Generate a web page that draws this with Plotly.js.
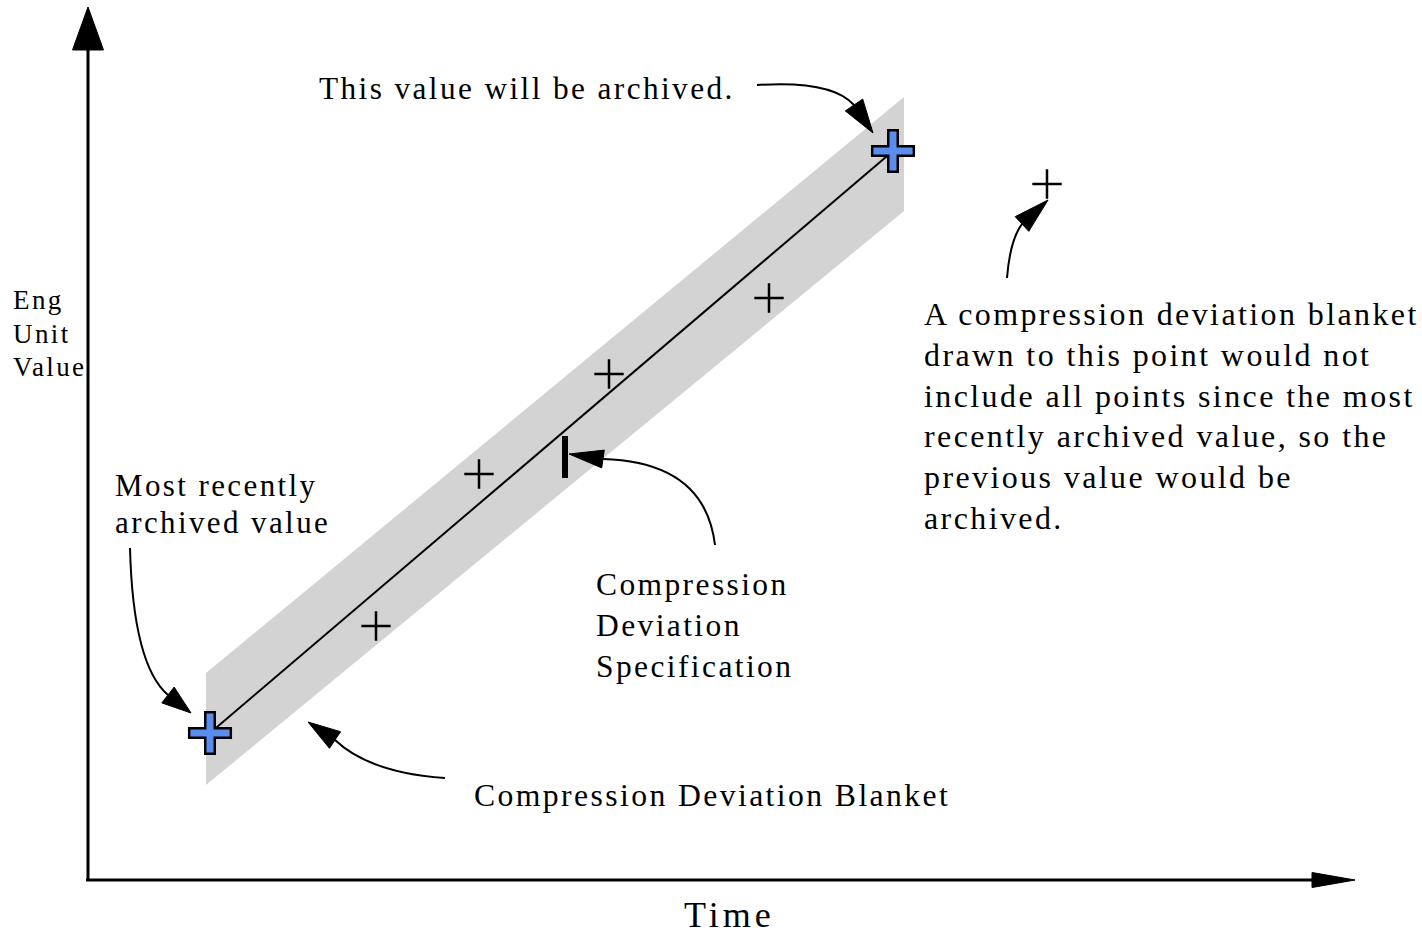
<!DOCTYPE html>
<html>
<head>
<meta charset="utf-8">
<script src="https://cdn.plot.ly/plotly-3.0.1.min.js"></script>
<style>
  html, body { margin: 0; padding: 0; background: #fff; }
  #chart { width: 1422px; height: 934px; }
  /* wide letter spacing of the original drawing; plain class rule so Plotly's text measurer sees it too */
  .annotation-text { letter-spacing: 2.4px; }
  .annotation-text[style*="font-size: 36px"] { letter-spacing: 4px; }
</style>
</head>
<body>
<div id="chart"></div>
<script>
// ---- Data (time units / engineering-unit value units, origin at axis corner) ----
const archivedTimes  = [122, 805];          // most recently archived value, value to be archived
const archivedValues = [147, 729];
const sampleTimes    = [288, 391, 521, 681]; // intermediate (non-archived) samples
const sampleValues   = [254, 406, 506, 582];
const nextTimes      = [959];                // next sample, outside the blanket
const nextValues     = [696];
const blanketTimes   = [118, 816, 816, 118]; // compression deviation blanket outline
const blanketValues  = [207, 783, 669, 95];
const specTimes      = [477, 477];           // compression deviation specification bar
const specValues     = [444, 402];

// text
const yAxisLabelLines   = ["Eng", "Unit", "Value"];
const xAxisLabel        = "Time";
const topLabel          = "This value will be archived.";
const recentLabelLines  = ["Most recently", "archived value"];
const specLabelLines    = ["Compression", "Deviation", "Specification"];
const blanketLabel      = "Compression Deviation Blanket";
const noteLines = [
  "A compression deviation blanket",
  "drawn to this point would not",
  "include all points since the most",
  "recently archived value, so the",
  "previous value would be",
  "archived."
];

// ---- Layout config (positions in axis units) ----
const X_RANGE = [-88, 1334];
const Y_RANGE = [-54, 880];
const SERIF = '"Liberation Serif", "Times New Roman", Times, serif';

// axes arrows
const axisArrows = [
  {from: [0, 0], base: [0, 830], tip: [0, 873], half: 15.5},
  {from: [-2, 0], base: [1224, 0], tip: [1267, 0], half: 7.5}
];
// curved callout arrows: start, control, head base, tip, half width of head
const callouts = [
  {start: [669, 795], ctrl: [744, 800], base: [766, 775], tip: [785, 747], half: 10.5},
  {start: [919, 602], ctrl: [922, 640], base: [934, 656], tip: [960, 680], half: 10},
  {start: [42, 332],  ctrl: [45, 215],  base: [80, 185],  tip: [103, 167], half: 10},
  {start: [627, 335], ctrl: [617, 418], base: [515, 421], tip: [481, 426], half: 9},
  {start: [357, 102], ctrl: [282, 107], base: [247, 140], tip: [220, 158], half: 10}
];

function headPath(base, tip, half) {
  const dx = tip[0] - base[0], dy = tip[1] - base[1];
  const len = Math.hypot(dx, dy);
  const nx = -dy / len * half, ny = dx / len * half;
  return `M${tip[0]},${tip[1]} L${base[0] + nx},${base[1] + ny} L${base[0] - nx},${base[1] - ny} Z`;
}

const shapes = [];
axisArrows.forEach(a => {
  shapes.push({type: 'line', xref: 'x', yref: 'y', x0: a.from[0], y0: a.from[1], x1: a.base[0], y1: a.base[1],
               line: {color: '#000', width: 3}});
  shapes.push({type: 'path', xref: 'x', yref: 'y', path: headPath(a.base, a.tip, a.half),
               fillcolor: '#000', line: {color: '#000', width: 1}});
});
callouts.forEach(c => {
  shapes.push({type: 'path', xref: 'x', yref: 'y',
               path: `M${c.start[0]},${c.start[1]} Q${c.ctrl[0]},${c.ctrl[1]} ${c.base[0]},${c.base[1]}`,
               line: {color: '#000', width: 2}});
  shapes.push({type: 'path', xref: 'x', yref: 'y', path: headPath(c.base, c.tip, c.half),
               fillcolor: '#000', line: {color: '#000', width: 1}});
});

const traces = [
  { // blanket
    x: blanketTimes, y: blanketValues, type: 'scatter', mode: 'lines', fill: 'toself',
    fillcolor: '#d3d3d3', line: {width: 0, color: '#d3d3d3'}, hoverinfo: 'skip'
  },
  { // line between archived values
    x: archivedTimes, y: archivedValues, type: 'scatter', mode: 'lines',
    line: {color: '#000', width: 2}, hoverinfo: 'skip'
  },
  { // spec bar
    x: specTimes, y: specValues, type: 'scatter', mode: 'lines',
    line: {color: '#000', width: 6}, hoverinfo: 'skip'
  },
  { // samples
    x: sampleTimes.concat(nextTimes), y: sampleValues.concat(nextValues), type: 'scatter', mode: 'markers',
    marker: {symbol: 'cross-thin', size: 21, line: {color: '#000', width: 2.5}}, hoverinfo: 'skip'
  },
  { // archived: outline layer
    x: archivedTimes, y: archivedValues, type: 'scatter', mode: 'markers',
    marker: {symbol: 'cross-thin', size: 31.5, line: {color: '#000', width: 12}}, hoverinfo: 'skip'
  },
  { // archived: blue fill layer
    x: archivedTimes, y: archivedValues, type: 'scatter', mode: 'markers',
    marker: {symbol: 'cross-thin', size: 28, line: {color: '#5b8def', width: 7}}, hoverinfo: 'skip'
  }
];

const annotations = [];
function addLines(lines, x, y0, step, size) {
  lines.forEach((t, i) => annotations.push({
    text: t, x: x, y: y0 - i * step, xref: 'x', yref: 'y', showarrow: false,
    xanchor: 'left', yanchor: 'middle', font: {family: SERIF, size: size, color: '#000'}
  }));
}
addLines([topLabel], 229, 792, 0, 31.3);
addLines(yAxisLabelLines, -77, 580, 33.5, 27);
addLines(recentLabelLines, 25, 395, 37, 31);
addLines(specLabelLines, 506, 296, 41, 31.5);
addLines(noteLines, 834, 566, 40.8, 32);
addLines([blanketLabel], 384, 85, 0, 31.7);
addLines([xAxisLabel], 594, -35, 0, 36);

const layout = {
  width: 1422, height: 934, autosize: false,
  margin: {l: 0, r: 0, t: 0, b: 0, pad: 0},
  paper_bgcolor: '#fff', plot_bgcolor: '#fff',
  showlegend: false,
  xaxis: {range: X_RANGE, visible: false, fixedrange: true},
  yaxis: {range: Y_RANGE, visible: false, fixedrange: true},
  shapes: shapes,
  annotations: annotations
};

Plotly.newPlot('chart', traces, layout, {staticPlot: true, displayModeBar: false});
</script>
</body>
</html>
